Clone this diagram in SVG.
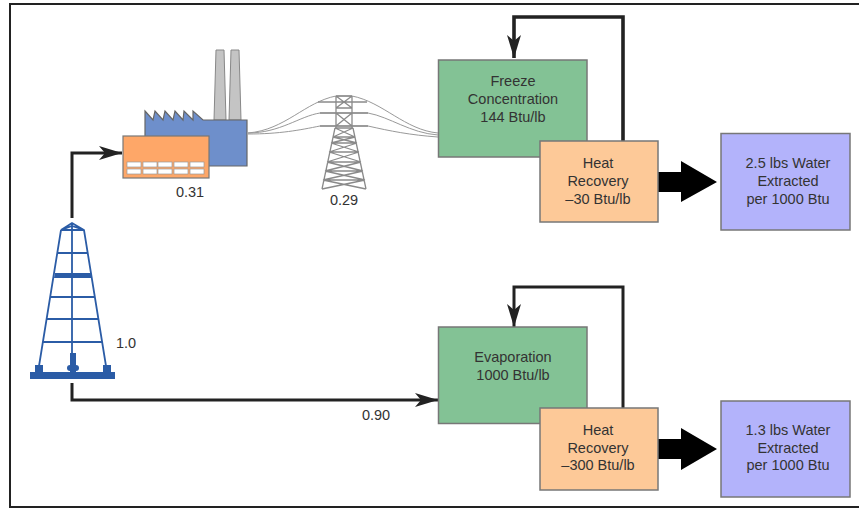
<svg xmlns="http://www.w3.org/2000/svg" width="859" height="508" viewBox="0 0 859 508">
<style>
text{font-family:"Liberation Sans",Arial,sans-serif;font-size:14.5px;fill:#333;text-anchor:middle}
.box{stroke:#777;stroke-width:1.5}
.g{fill:#83c295}.o{fill:#fdc998}.p{fill:#b3b3fb}
.flow{fill:none;stroke:#222;stroke-width:3}
.wire{fill:none;stroke:#999;stroke-width:1}
.t{fill:none;stroke:#8a8a8a;stroke-width:1.3}
.d{fill:none;stroke:#2b5ca6;stroke-width:1.8}
.df{fill:#2b5ca6}
.win{fill:#fff;stroke:#999;stroke-width:.7}
</style>
<defs>
<marker id="ah" markerUnits="userSpaceOnUse" markerWidth="24" markerHeight="16" refX="23" refY="8" orient="auto"><path d="M0 1L23 8L0 15L6 8Z" fill="#222"/></marker>
</defs>
<rect width="859" height="508" fill="#fff"/>
<path id="frame" d="M859 4H10V507H859" fill="none" stroke="#222" stroke-width="2"/>
<g id="connectors">
<path class="flow" d="M72 218V153H122" marker-end="url(#ah)"/>
<path class="flow" d="M72 383V400H438" marker-end="url(#ah)"/>
<path class="flow" style="stroke-width:3.6" d="M623 141V17H514V58" marker-end="url(#ah)"/>
<path class="flow" d="M623 408V287H514V327" marker-end="url(#ah)"/>
<path d="M658 172H681V161L717 182L681 202V192H658Z" fill="#000"/>
<path d="M658 439H681V428L717 449L681 470V459H658Z" fill="#000"/>
<path class="wire" d="M248 133C285 130 305 102 336 96H352C383 102 405 130 438 133"/>
<path class="wire" d="M248 133C280 133 300 116 320 113H368C390 117 410 133 438 135"/>
<path class="wire" d="M248 134C280 134 300 130 320 126H368C390 131 410 135 438 137"/>
</g>
<g id="plant">
<path d="M214 120L216 50H224L226 120Z" fill="#c4c4c4" stroke="#888"/>
<path d="M229 120L231 50H239L241 120Z" fill="#c4c4c4" stroke="#888"/>
<path d="M145 111L153 120L155 111L163 120L165 111L173 120L175 111L183 120L184 111L193 120L193 111L203 120H247V166H145Z" fill="#6e8fcb" stroke="#666" stroke-width="1.2"/>
<rect x="123" y="136" width="86" height="42" fill="#fea768" stroke="#777" stroke-width="1.2"/>
<g class="win">
<rect x="127" y="162" width="14" height="5"/><rect x="143" y="162" width="14" height="5"/><rect x="158" y="162" width="14" height="5"/><rect x="174" y="162" width="14" height="5"/><rect x="190" y="162" width="14" height="5"/>
<rect x="127" y="169" width="14" height="5"/><rect x="143" y="169" width="14" height="5"/><rect x="158" y="169" width="14" height="5"/><rect x="174" y="169" width="14" height="5"/><rect x="190" y="169" width="14" height="5"/>
</g>
<text x="190" y="197">0.31</text>
</g>
<g id="tower">
<path class="t" d="M336 96V128M352 96V128M336 96H352M336 96L352 108M352 96L336 108M336 113L352 126M352 113L336 126M336 108H352M318 102H367M320 113H368M320 126H368"/>
<path class="t" d="M335 128L322 189M353 128L366 189M335 128H353M333 137H355M331 143H357M329 152H359M327 162H361M325 171H363M323 180H365M335 128L355 137M353 128L333 137M333 137L357 143M355 137L331 143M331 143L359 152M357 143L329 152M329 152L361 162M359 152L327 162M327 162L363 171M361 162L325 171M325 171L365 180M363 171L323 180M323 180L366 189M365 180L322 189"/>
<text x="344" y="205">0.29</text>
</g>
<g id="rig">
<path class="d" d="M61 230L72 223L84 230L106 366M61 230L39 366M61 230H84M72 223V353M61 230L72 226L84 230M57 253H88M50 297H95M46 319H99M43 342H102"/>
<path class="df" d="M55 273H91L92 278H54Z"/>
<rect class="df" x="35" y="365" width="8" height="8"/>
<rect class="df" x="103" y="365" width="8" height="8"/>
<rect class="df" x="70" y="353" width="6" height="20"/>
<rect class="df" x="67" y="365" width="12" height="6" rx="3"/>
<rect class="df" x="30" y="372" width="85" height="7"/>
<text x="126" y="348">1.0</text>
</g>
<g id="freeze"><rect class="box g" x="438.500" y="60" width="148.500" height="97"/><text x="513" y="86">Freeze</text><text x="513" y="104">Concentration</text><text x="513" y="122">144 Btu/lb</text></g>
<g id="recovery1"><rect class="box o" x="540" y="141" width="118" height="81"/><text x="598" y="168">Heat</text><text x="598" y="186">Recovery</text><text x="598" y="204">–30 Btu/lb</text></g>
<g id="water1"><rect class="box p" x="721" y="133.500" width="129" height="96.500"/><text x="788" y="168">2.5 lbs Water</text><text x="788" y="186">Extracted</text><text x="788" y="204">per 1000 Btu</text></g>
<g id="evap"><rect class="box g" x="438.500" y="327" width="148.500" height="96.500"/><text x="513" y="362">Evaporation</text><text x="513" y="380">1000 Btu/lb</text></g>
<g id="recovery2"><rect class="box o" x="540" y="408" width="118" height="82"/><text x="598" y="435">Heat</text><text x="598" y="453">Recovery</text><text x="598" y="470">–300 Btu/lb</text></g>
<g id="water2"><rect class="box p" x="721" y="401" width="129" height="96"/><text x="788" y="435">1.3 lbs Water</text><text x="788" y="453">Extracted</text><text x="788" y="470">per 1000 Btu</text></g>
<text x="376" y="420">0.90</text>
</svg>
